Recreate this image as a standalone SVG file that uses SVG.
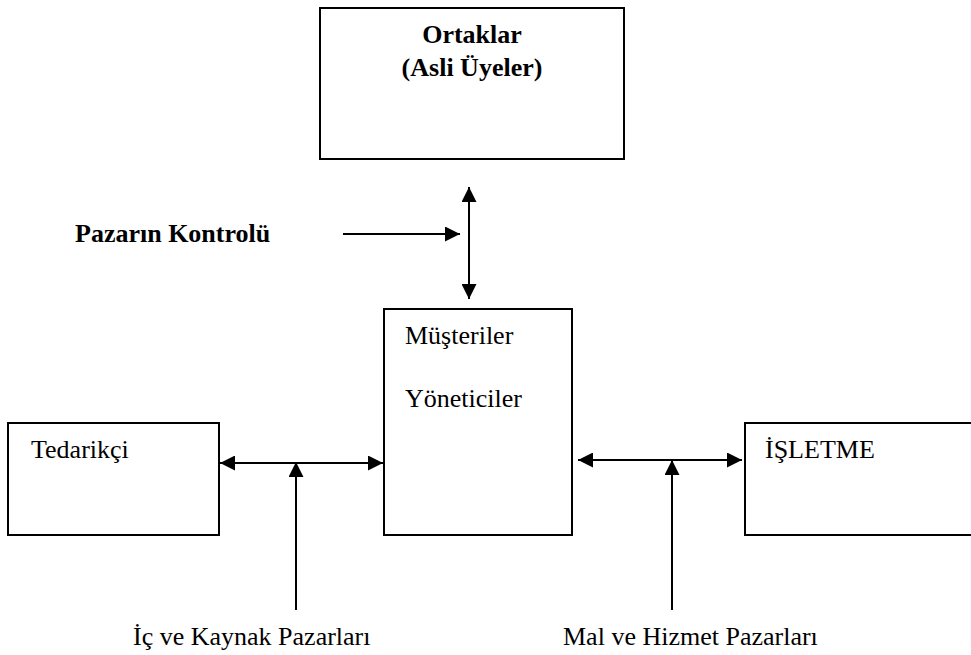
<svg xmlns="http://www.w3.org/2000/svg" width="971" height="655" viewBox="0 0 971 655">
<defs>
<style>
.box{fill:#fff;stroke:#000;stroke-width:2}
.ln{stroke:#000;stroke-width:2;fill:none}
.t{font-family:"Liberation Serif","Times New Roman",serif;font-size:26px;fill:#000}
.b{font-weight:bold}
</style>
<marker id="ah" viewBox="0 0 10 10" refX="10" refY="5" markerWidth="15" markerHeight="15" markerUnits="userSpaceOnUse" orient="auto-start-reverse">
<path d="M0,0 L10,5 L0,10 Z" fill="#000"/>
</marker>
</defs>
<rect width="971" height="655" fill="#fff"/>
<g id="ortaklar">
<rect class="box" x="320" y="8" width="304" height="151"/>
<text class="t b" x="472" y="43" text-anchor="middle">Ortaklar</text>
<text class="t b" x="472" y="76" text-anchor="middle">(Asli Üyeler)</text>
</g>
<g id="pazarin-kontrolu">
<text class="t b" x="75" y="242">Pazarın Kontrolü</text>
</g>
<g id="musteriler">
<rect class="box" x="384" y="309" width="188" height="226"/>
<text class="t" x="405" y="344">Müşteriler</text>
<text class="t" x="405" y="407">Yöneticiler</text>
</g>
<g id="tedarikci">
<rect class="box" x="8" y="423" width="211" height="112"/>
<text class="t" x="31" y="458">Tedarikçi</text>
</g>
<g id="isletme">
<rect class="box" x="745" y="423" width="240" height="112"/>
<text class="t" x="765" y="458">İŞLETME</text>
</g>
<g id="ic-kaynak">
<text class="t" x="133" y="645">İç ve Kaynak Pazarları</text>
</g>
<g id="mal-hizmet">
<text class="t" x="563" y="645">Mal ve Hizmet Pazarları</text>
</g>
<g id="connectors">
<line class="ln" x1="469" y1="187" x2="469" y2="299" marker-start="url(#ah)" marker-end="url(#ah)"/>
<line class="ln" x1="343" y1="234" x2="460" y2="234" marker-end="url(#ah)"/>
<line class="ln" x1="220" y1="463" x2="383" y2="463" marker-start="url(#ah)" marker-end="url(#ah)"/>
<line class="ln" x1="296" y1="610" x2="296" y2="462" marker-end="url(#ah)"/>
<line class="ln" x1="578" y1="460" x2="742" y2="460" marker-start="url(#ah)" marker-end="url(#ah)"/>
<line class="ln" x1="672" y1="610" x2="672" y2="460" marker-end="url(#ah)"/>
</g>
</svg>
